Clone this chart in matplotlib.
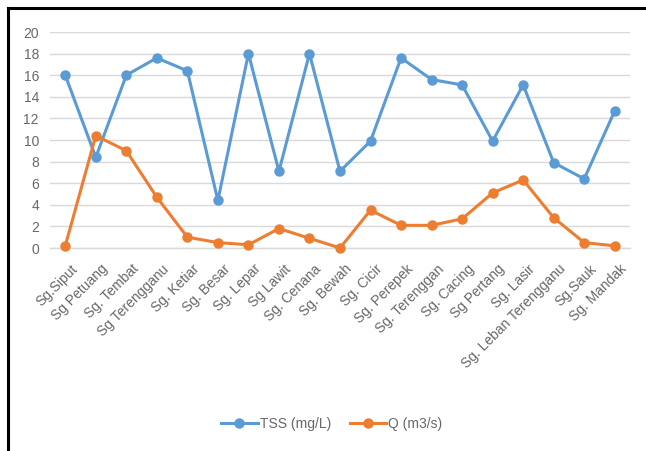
import matplotlib
matplotlib.use("Agg")
import matplotlib.pyplot as plt
from matplotlib.lines import Line2D
import matplotlib.transforms as mtransforms

# data
sites = ["Sg.Siput", "Sg Petuang", "Sg. Tembat", "Sg Terengganu", "Sg. Ketiar",
         "Sg. Besar", "Sg. Lepar", "Sg Lawit", "Sg. Cenana", "Sg. Bewah",
         "Sg. Cicir", "Sg. Perepek", "Sg. Terenggan", "Sg. Cacing", "Sg Pertang",
         "Sg. Lasir", "Sg. Leban Terengganu", "Sg.Sauk", "Sg. Mandak"]
tss = [16.0, 8.4, 16.0, 17.6, 16.4, 4.4, 18.0, 7.1, 18.0, 7.1,
       9.9, 17.6, 15.6, 15.1, 9.9, 15.1, 7.9, 6.4, 12.7]
q = [0.2, 10.4, 9.0, 4.7, 1.0, 0.5, 0.3, 1.8, 0.9, 0.0,
     3.5, 2.1, 2.1, 2.7, 5.1, 6.3, 2.8, 0.5, 0.2]
yticks = list(range(0, 21, 2))

BLUE = "#5B9BD5"
ORANGE = "#ED7D31"
TXT = "#686868"

plt.rcParams["font.family"] = ["Liberation Sans", "DejaVu Sans"]

fig = plt.figure(figsize=(6.46, 4.51), dpi=100)
W, H = 646, 451
ax = fig.add_axes([50 / W, 1 - 248 / H, 580 / W, 216 / H])

x = list(range(len(sites)))
ax.plot(x, tss, color=BLUE, lw=2.2, marker="o", ms=6.5, label="TSS (mg/L)",
        clip_on=False, zorder=3)
ax.plot(x, q, color=ORANGE, lw=2.2, marker="o", ms=6.5, label="Q (m3/s)",
        clip_on=False, zorder=3)

ax.set_xlim(-0.5, len(sites) - 0.5)
ax.set_ylim(0, 20)
ax.set_yticks(yticks)
ax.set_yticklabels([str(v) for v in yticks], color=TXT, fontsize=10)
ax.set_xticks(x)
ax.set_xticklabels(sites, rotation=45, ha="right", rotation_mode="anchor",
                   color=TXT, fontsize=10)
ax.tick_params(axis="y", length=0, pad=8)
ax.tick_params(axis="x", length=0, pad=10)
shift = mtransforms.ScaledTranslation(5 / 100, 0, fig.dpi_scale_trans)
for lbl in ax.get_xticklabels():
    lbl.set_transform(lbl.get_transform() + shift)
ax.grid(axis="y", color="#D9D9D9", lw=1)
ax.axhline(0, color="#D9D9D9", lw=1, clip_on=False, zorder=1)
ax.set_axisbelow(True)
for s in ax.spines.values():
    s.set_visible(False)

fig.legend(loc="center", bbox_to_anchor=(332 / W, 1 - 424 / H), ncol=2,
           frameon=False, fontsize=10, labelcolor=TXT, handlelength=2.6,
           handletextpad=0.15, columnspacing=1.4)

# black frame (left and top edges visible in the reference)
fig.add_artist(Line2D([8 / W, 8 / W], [0, 1 - 8 / H], transform=fig.transFigure,
                      color="black", lw=2.2))
fig.add_artist(Line2D([8 / W, 1], [1 - 8 / H, 1 - 8 / H], transform=fig.transFigure,
                      color="black", lw=2.2))

fig.savefig("out.png", dpi=100)
